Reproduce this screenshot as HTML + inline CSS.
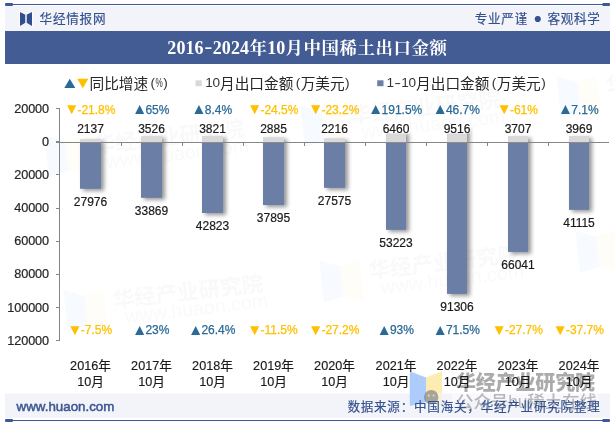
<!DOCTYPE html>
<html lang="zh-CN">
<head>
<meta charset="utf-8">
<title>2016-2024年10月中国稀土出口金额</title>
<style>
html,body{margin:0;padding:0;background:#fff;}
body{width:615px;height:427px;overflow:hidden;position:relative;font-family:"Liberation Sans","Noto Sans CJK SC",sans-serif;}
#chart{position:absolute;left:0;top:0;width:615px;height:427px;display:block;}
text{font-family:"Liberation Sans","Noto Sans CJK SC",sans-serif;}
.ax{font-size:12.67px;letter-spacing:-0.1px;fill:#262626;stroke:#262626;stroke-width:0.2px;}
.val{font-size:12px;fill:#1a1a1a;stroke:#1a1a1a;stroke-width:0.2px;}
.cat{font-size:12.67px;fill:#1a1a1a;stroke:#1a1a1a;stroke-width:0.15px;}
.g{font-size:12px;}
.leg{font-size:14.67px;fill:#262626;}
.legl{fill:#333;font-family:"Liberation Sans",sans-serif;}
.title{font-family:"Liberation Serif","Noto Serif CJK SC",serif;font-weight:bold;font-size:18px;fill:#fff;}
.brand{font-size:12.6px;letter-spacing:0.73px;fill:#34508f;stroke:#34508f;stroke-width:0.15px;}
.foot{font-size:12.6px;letter-spacing:0.73px;fill:#34508f;stroke:#34508f;stroke-width:0.15px;}
.site{font-size:13.33px;fill:#3c5692;stroke:#3c5692;stroke-width:0.5px;}
</style>
</head>
<body>
<svg id="chart" width="615" height="427" viewBox="0 0 615 427">
<defs>
<filter id="sh" x="-50%" y="-50%" width="200%" height="200%" filterUnits="objectBoundingBox">
<feGaussianBlur in="SourceAlpha" stdDeviation="2.2"/>
<feOffset dx="2.8" dy="2.0" result="o"/>
<feComponentTransfer><feFuncA type="linear" slope="0.42"/></feComponentTransfer>
</filter>
</defs>
<rect x="0" y="0" width="615" height="427" fill="#ffffff"/>
<!-- header -->
<rect x="5" y="6" width="605" height="25" fill="#f3f4f9"/>
<rect x="5" y="4" width="605" height="1" fill="#3f5796"/>
<rect x="5" y="3" width="8" height="3" rx="1" fill="#3f5796"/>
<rect x="602.3" y="3" width="7.7" height="3" rx="1" fill="#3f5796"/>
<rect x="5" y="31" width="605" height="33" fill="#445c94"/>
<!-- logo -->
<path d="M20 11.9 L25 14.4 L25 22.9 L20 25.9 Z M32 11.9 L27 14.4 L27 22.9 L32 25.9 Z" fill="#2f4f8f" stroke="#fff" stroke-width="1.6" stroke-linejoin="round" opacity="0.9"/>
<rect x="25" y="14.4" width="2" height="8.5" fill="#c3cce2"/>
<path d="M20 11.9 L25 14.4 L25 22.9 L20 25.9 Z M32 11.9 L27 14.4 L27 22.9 L32 25.9 Z" fill="#2f4f8f"/>
<text class="brand" x="39.6" y="22.8">华经情报网</text>
<text class="brand" y="22.8"><tspan x="474.7">专业严谨</tspan><tspan x="533.5" dy="-0.2" font-size="14.2" stroke="none" letter-spacing="0"> </tspan><tspan x="533.6" font-size="14.2" stroke="none" letter-spacing="0">●</tspan><tspan x="543" dy="0.2" letter-spacing="0"> </tspan><tspan x="547.4">客观科学</tspan></text>
<text class="title" y="54"><tspan x="167.3 176.4 185.5 194.6">2016</tspan><tspan x="204.6" dy="-0.7" textLength="7.8" lengthAdjust="spacingAndGlyphs">-</tspan><tspan x="212.7 221.8 230.9 240.0" dy="0.7">2024</tspan><tspan font-size="17.4" x="249.6" dy="-0.2">年</tspan><tspan x="267.3 276.3" dy="0.2">10</tspan><tspan font-size="17.4" x="285.6 303.6 321.6 339.6 357.6 375.6 393.6 411.6 429.6" dy="-0.2">月中国稀土出口金额</tspan></text>
<!-- footer -->
<rect x="5" y="393.5" width="605" height="24.3" fill="#f3f4f9"/>
<rect x="5" y="420" width="605" height="1" fill="#3f5796"/>
<rect x="5" y="419" width="8" height="3" rx="1" fill="#3f5796"/>
<rect x="602.3" y="419" width="7.7" height="3" rx="1" fill="#3f5796"/>

<g transform="translate(46,150) rotate(-6.5)"><path d="M0 -15 L20 -7 L20 23 L0 27 Z" fill="#3f8fe8" opacity="0.045"/><path d="M40 -11 L20 -7 L20 23 L40 31 Z" fill="#f5c400" opacity="0.033"/><text x="48" y="8.5" font-size="21.6" font-weight="bold" fill="#555" opacity="0.030">华经产业研究院</text><text x="58" y="25" font-size="19.5" fill="#666" opacity="0.030" textLength="144">www.huaon.com</text></g>
<g transform="translate(65,305) rotate(-6.5)"><path d="M0 -15 L20 -7 L20 23 L0 27 Z" fill="#3f8fe8" opacity="0.045"/><path d="M40 -11 L20 -7 L20 23 L40 31 Z" fill="#f5c400" opacity="0.033"/><text x="48" y="8.5" font-size="21.6" font-weight="bold" fill="#555" opacity="0.030">华经产业研究院</text><text x="58" y="25" font-size="19.5" fill="#666" opacity="0.030" textLength="144">www.huaon.com</text></g>
<g transform="translate(321,275.5) rotate(-6.5)"><path d="M0 -15 L20 -7 L20 23 L0 27 Z" fill="#3f8fe8" opacity="0.045"/><path d="M40 -11 L20 -7 L20 23 L40 31 Z" fill="#f5c400" opacity="0.033"/><text x="48" y="8.5" font-size="21.6" font-weight="bold" fill="#555" opacity="0.030">华经产业研究院</text><text x="58" y="25" font-size="19.5" fill="#666" opacity="0.030" textLength="144">www.huaon.com</text></g>
<g transform="translate(302,120.5) rotate(-6.5)"><path d="M0 -15 L20 -7 L20 23 L0 27 Z" fill="#3f8fe8" opacity="0.045"/><path d="M40 -11 L20 -7 L20 23 L40 31 Z" fill="#f5c400" opacity="0.033"/><text x="48" y="8.5" font-size="21.6" font-weight="bold" fill="#555" opacity="0.030">华经产业研究院</text><text x="58" y="25" font-size="19.5" fill="#666" opacity="0.030" textLength="144">www.huaon.com</text></g>
<g transform="translate(577,246) rotate(-6.5)"><path d="M0 -15 L20 -7 L20 23 L0 27 Z" fill="#3f8fe8" opacity="0.045"/><path d="M40 -11 L20 -7 L20 23 L40 31 Z" fill="#f5c400" opacity="0.033"/><text x="48" y="8.5" font-size="21.6" font-weight="bold" fill="#555" opacity="0.030">华经产业研究院</text><text x="58" y="25" font-size="19.5" fill="#666" opacity="0.030" textLength="144">www.huaon.com</text></g>
<g transform="translate(558,91) rotate(-6.5)"><path d="M0 -15 L20 -7 L20 23 L0 27 Z" fill="#3f8fe8" opacity="0.045"/><path d="M40 -11 L20 -7 L20 23 L40 31 Z" fill="#f5c400" opacity="0.033"/><text x="48" y="8.5" font-size="21.6" font-weight="bold" fill="#555" opacity="0.030">华经产业研究院</text><text x="58" y="25" font-size="19.5" fill="#666" opacity="0.030" textLength="144">www.huaon.com</text></g>
<g><rect x="452" y="371" width="147" height="30" fill="#fff" opacity="0.45"/><path d="M409.8 371.3 L426 377.6 L426 402 L409.8 406 Z" fill="#a9c9fb" opacity="0.95"/><path d="M426 377.6 L442 371.3 L442 393 L426 393 Z" fill="#fdeaa8" opacity="0.9"/><path d="M426 393 L442 393 L442 406 L426 402 Z" fill="#fdeaa8" opacity="0.35"/><circle cx="431.2" cy="397.2" r="7.2" fill="#7d7d78" opacity="0.65"/><circle cx="428.8" cy="395.6" r="1" fill="#e8e8e0" opacity="0.8"/><circle cx="433.6" cy="395.6" r="1" fill="#e8e8e0" opacity="0.8"/><text x="456" y="390" font-size="20" font-weight="900" fill="#5a5a5a" opacity="0.5" textLength="139" lengthAdjust="spacing">华经产业研究院</text><text x="456" y="407.5" font-size="17.5" font-weight="500" fill="#777" opacity="0.5" textLength="141" lengthAdjust="spacing">公众号hu稀土在线</text></g>
<text y="88.2" font-size="16.0"><tspan x="60.54" fill="#2b6a96" textLength="18.59" lengthAdjust="spacingAndGlyphs">▲</tspan><tspan x="73.54" fill="#ffc000" textLength="18.59" lengthAdjust="spacingAndGlyphs">▼</tspan></text>
<text class="leg" y="88.6"><tspan x="89.50 104.17 118.84 133.51">同比增速</tspan><tspan class="legl" font-size="13.6" x="150.58" dy="-1.20">(</tspan><tspan class="legl" font-size="13.6" x="155.56" textLength="7.25" lengthAdjust="spacingAndGlyphs">%</tspan><tspan class="legl" font-size="13.6" x="163.25">)</tspan></text>
<rect x="195.5" y="80.3" width="6.3" height="5.9" fill="#d9d9d9"/>
<text class="leg" y="88.6"><tspan class="legl" font-size="13.6" x="205.19 212.52" dy="-1.20">10</tspan><tspan x="219.97 234.64 249.31 263.98 278.65" dy="1.20">月出口金额</tspan><tspan class="legl" font-size="13.6" x="295.72" dy="-1.20">(</tspan><tspan x="300.66 315.33 330.00" dy="1.20">万美元</tspan><tspan class="legl" font-size="13.6" x="345.07" dy="-1.20">)</tspan></text>
<rect x="377.2" y="80.3" width="6.3" height="5.9" fill="#6a7ea6"/>
<text class="leg" y="88.6"><tspan class="legl" font-size="13.6" x="386.59" dy="-1.20">1</tspan><tspan class="legl" font-size="13.6" x="394.31" textLength="6.79" lengthAdjust="spacingAndGlyphs">-</tspan><tspan class="legl" font-size="13.6" x="401.26 408.59">10</tspan><tspan x="416.04 430.71 445.38 460.05 474.72" dy="1.20">月出口金额</tspan><tspan class="legl" font-size="13.6" x="491.79" dy="-1.20">(</tspan><tspan x="496.72 511.39 526.06" dy="1.20">万美元</tspan><tspan class="legl" font-size="13.6" x="541.14" dy="-1.20">)</tspan></text>
<rect x="80.00" y="139.10" width="21" height="49.70" fill="#000" filter="url(#sh)"/>
<rect x="141.00" y="136.10" width="21" height="61.70" fill="#000" filter="url(#sh)"/>
<rect x="202.00" y="136.00" width="21" height="77.00" fill="#000" filter="url(#sh)"/>
<rect x="263.00" y="137.20" width="21" height="67.80" fill="#000" filter="url(#sh)"/>
<rect x="324.00" y="138.30" width="21" height="49.55" fill="#000" filter="url(#sh)"/>
<rect x="386.00" y="131.40" width="20" height="98.45" fill="#000" filter="url(#sh)"/>
<rect x="447.00" y="126.30" width="20" height="167.60" fill="#000" filter="url(#sh)"/>
<rect x="508.00" y="136.05" width="20" height="115.85" fill="#000" filter="url(#sh)"/>
<rect x="569.00" y="136.00" width="20" height="73.85" fill="#000" filter="url(#sh)"/>
<g stroke="#868686" stroke-width="1" fill="none">
<line x1="59.5" y1="108" x2="59.5" y2="341"/>
<line x1="56.0" y1="108.5" x2="59.5" y2="108.5"/>
<line x1="56.0" y1="141.5" x2="59.5" y2="141.5"/>
<line x1="56.0" y1="174.5" x2="59.5" y2="174.5"/>
<line x1="56.0" y1="208.5" x2="59.5" y2="208.5"/>
<line x1="56.0" y1="241.5" x2="59.5" y2="241.5"/>
<line x1="56.0" y1="274.5" x2="59.5" y2="274.5"/>
<line x1="56.0" y1="307.5" x2="59.5" y2="307.5"/>
<line x1="56.0" y1="340.5" x2="59.5" y2="340.5"/>
<line x1="56.0" y1="142.5" x2="609" y2="142.5"/>
<line x1="121.5" y1="142.5" x2="121.5" y2="146.0"/>
<line x1="182.5" y1="142.5" x2="182.5" y2="146.0"/>
<line x1="243.5" y1="142.5" x2="243.5" y2="146.0"/>
<line x1="304.5" y1="142.5" x2="304.5" y2="146.0"/>
<line x1="365.5" y1="142.5" x2="365.5" y2="146.0"/>
<line x1="426.5" y1="142.5" x2="426.5" y2="146.0"/>
<line x1="487.5" y1="142.5" x2="487.5" y2="146.0"/>
<line x1="548.5" y1="142.5" x2="548.5" y2="146.0"/>
</g>
<rect x="80.00" y="139.10" width="21" height="3.80" fill="#d9d9d9"/>
<rect x="80.00" y="142.9" width="21" height="45.90" fill="#6a7ea6"/>
<rect x="141.00" y="136.10" width="21" height="6.80" fill="#d9d9d9"/>
<rect x="141.00" y="142.9" width="21" height="54.90" fill="#6a7ea6"/>
<rect x="202.00" y="136.00" width="21" height="6.90" fill="#d9d9d9"/>
<rect x="202.00" y="142.9" width="21" height="70.10" fill="#6a7ea6"/>
<rect x="263.00" y="137.20" width="21" height="5.70" fill="#d9d9d9"/>
<rect x="263.00" y="142.9" width="21" height="62.10" fill="#6a7ea6"/>
<rect x="324.00" y="138.30" width="21" height="4.60" fill="#d9d9d9"/>
<rect x="324.00" y="142.9" width="21" height="44.95" fill="#6a7ea6"/>
<rect x="386.00" y="131.40" width="20" height="11.50" fill="#d9d9d9"/>
<rect x="386.00" y="142.9" width="20" height="86.95" fill="#6a7ea6"/>
<rect x="447.00" y="126.30" width="20" height="16.60" fill="#d9d9d9"/>
<rect x="447.00" y="142.9" width="20" height="151.00" fill="#6a7ea6"/>
<rect x="508.00" y="136.05" width="20" height="6.85" fill="#d9d9d9"/>
<rect x="508.00" y="142.9" width="20" height="109.00" fill="#6a7ea6"/>
<rect x="569.00" y="136.00" width="20" height="6.90" fill="#d9d9d9"/>
<rect x="569.00" y="142.9" width="20" height="66.95" fill="#6a7ea6"/>
<line x1="59.5" y1="142.5" x2="609" y2="142.5" stroke="#868686" stroke-width="1" opacity="0.9"/>
<text class="ax" x="49" y="113.1" text-anchor="end">20000</text>
<text class="ax" x="49" y="146.2" text-anchor="end">0</text>
<text class="ax" x="49" y="179.2" text-anchor="end">20000</text>
<text class="ax" x="49" y="212.3" text-anchor="end">40000</text>
<text class="ax" x="49" y="245.3" text-anchor="end">60000</text>
<text class="ax" x="49" y="278.4" text-anchor="end">80000</text>
<text class="ax" x="49" y="311.5" text-anchor="end">100000</text>
<text class="ax" x="49" y="344.5" text-anchor="end">120000</text>
<rect x="77.1" y="122.5" width="26.8" height="10.9" fill="#fff"/>
<text class="val" x="90.5" y="132.9" text-anchor="middle">2137</text>
<text class="val" x="90.5" y="205.7" text-anchor="middle">27976</text>
<text class="g" y="113.7" fill="#ffc000"><tspan x="63.94" dy="0.6" font-size="15.5">▼</tspan><tspan x="77.44" dy="-0.6" stroke="#ffc000" stroke-width="0.25">-21.8%</tspan></text>
<text class="g" y="333.9" fill="#ffc000"><tspan x="67.28" dy="0.6" font-size="15.5">▼</tspan><tspan x="80.78" dy="-0.6" stroke="#ffc000" stroke-width="0.25">-7.5%</tspan></text>
<text class="cat" x="90.5" y="369.8" text-anchor="middle">2016年</text>
<text class="cat" x="90.5" y="385.8" text-anchor="middle">10月</text>
<rect x="138.1" y="122.5" width="26.8" height="10.9" fill="#fff"/>
<text class="val" x="151.5" y="132.9" text-anchor="middle">3526</text>
<text class="val" x="151.5" y="214.7" text-anchor="middle">33869</text>
<text class="g" y="113.7" fill="#2b6a96"><tspan x="131.94" dy="0.6" font-size="15.5">▲</tspan><tspan x="145.44" dy="-0.6" stroke="#2b6a96" stroke-width="0.25">65%</tspan></text>
<text class="g" y="333.9" fill="#2b6a96"><tspan x="131.94" dy="0.6" font-size="15.5">▲</tspan><tspan x="145.44" dy="-0.6" stroke="#2b6a96" stroke-width="0.25">23%</tspan></text>
<text class="cat" x="151.5" y="369.8" text-anchor="middle">2017年</text>
<text class="cat" x="151.5" y="385.8" text-anchor="middle">10月</text>
<rect x="199.1" y="122.5" width="26.8" height="10.9" fill="#fff"/>
<text class="val" x="212.5" y="132.9" text-anchor="middle">3821</text>
<text class="val" x="212.5" y="229.9" text-anchor="middle">42823</text>
<text class="g" y="113.7" fill="#2b6a96"><tspan x="191.27" dy="0.6" font-size="15.5">▲</tspan><tspan x="204.77" dy="-0.6" stroke="#2b6a96" stroke-width="0.25">8.4%</tspan></text>
<text class="g" y="333.9" fill="#2b6a96"><tspan x="187.94" dy="0.6" font-size="15.5">▲</tspan><tspan x="201.44" dy="-0.6" stroke="#2b6a96" stroke-width="0.25">26.4%</tspan></text>
<text class="cat" x="212.5" y="369.8" text-anchor="middle">2018年</text>
<text class="cat" x="212.5" y="385.8" text-anchor="middle">10月</text>
<rect x="260.1" y="122.5" width="26.8" height="10.9" fill="#fff"/>
<text class="val" x="273.5" y="132.9" text-anchor="middle">2885</text>
<text class="val" x="273.5" y="221.9" text-anchor="middle">37895</text>
<text class="g" y="113.7" fill="#ffc000"><tspan x="246.94" dy="0.6" font-size="15.5">▼</tspan><tspan x="260.44" dy="-0.6" stroke="#ffc000" stroke-width="0.25">-24.5%</tspan></text>
<text class="g" y="333.9" fill="#ffc000"><tspan x="246.94" dy="0.6" font-size="15.5">▼</tspan><tspan x="260.44" dy="-0.6" stroke="#ffc000" stroke-width="0.25">-11.5%</tspan></text>
<text class="cat" x="273.5" y="369.8" text-anchor="middle">2019年</text>
<text class="cat" x="273.5" y="385.8" text-anchor="middle">10月</text>
<rect x="321.1" y="122.5" width="26.8" height="10.9" fill="#fff"/>
<text class="val" x="334.5" y="132.9" text-anchor="middle">2216</text>
<text class="val" x="334.5" y="204.8" text-anchor="middle">27575</text>
<text class="g" y="113.7" fill="#ffc000"><tspan x="307.94" dy="0.6" font-size="15.5">▼</tspan><tspan x="321.44" dy="-0.6" stroke="#ffc000" stroke-width="0.25">-23.2%</tspan></text>
<text class="g" y="333.9" fill="#ffc000"><tspan x="307.94" dy="0.6" font-size="15.5">▼</tspan><tspan x="321.44" dy="-0.6" stroke="#ffc000" stroke-width="0.25">-27.2%</tspan></text>
<text class="cat" x="334.5" y="369.8" text-anchor="middle">2020年</text>
<text class="cat" x="334.5" y="385.8" text-anchor="middle">10月</text>
<rect x="382.6" y="122.5" width="26.8" height="10.9" fill="#fff"/>
<text class="val" x="396.0" y="132.9" text-anchor="middle">6460</text>
<text class="val" x="396.0" y="246.8" text-anchor="middle">53223</text>
<text class="g" y="113.7" fill="#2b6a96"><tspan x="368.10" dy="0.6" font-size="15.5">▲</tspan><tspan x="381.60" dy="-0.6" stroke="#2b6a96" stroke-width="0.25">191.5%</tspan></text>
<text class="g" y="333.9" fill="#2b6a96"><tspan x="376.44" dy="0.6" font-size="15.5">▲</tspan><tspan x="389.94" dy="-0.6" stroke="#2b6a96" stroke-width="0.25">93%</tspan></text>
<text class="cat" x="396.0" y="369.8" text-anchor="middle">2021年</text>
<text class="cat" x="396.0" y="385.8" text-anchor="middle">10月</text>
<rect x="443.6" y="122.5" width="26.8" height="10.9" fill="#fff"/>
<text class="val" x="457.0" y="132.9" text-anchor="middle">9516</text>
<text class="val" x="457.0" y="310.8" text-anchor="middle">91306</text>
<text class="g" y="113.7" fill="#2b6a96"><tspan x="432.44" dy="0.6" font-size="15.5">▲</tspan><tspan x="445.94" dy="-0.6" stroke="#2b6a96" stroke-width="0.25">46.7%</tspan></text>
<text class="g" y="333.9" fill="#2b6a96"><tspan x="432.44" dy="0.6" font-size="15.5">▲</tspan><tspan x="445.94" dy="-0.6" stroke="#2b6a96" stroke-width="0.25">71.5%</tspan></text>
<text class="cat" x="457.0" y="369.8" text-anchor="middle">2022年</text>
<text class="cat" x="457.0" y="385.8" text-anchor="middle">10月</text>
<rect x="504.6" y="122.5" width="26.8" height="10.9" fill="#fff"/>
<text class="val" x="518.0" y="132.9" text-anchor="middle">3707</text>
<text class="val" x="518.0" y="268.8" text-anchor="middle">66041</text>
<text class="g" y="113.7" fill="#ffc000"><tspan x="496.44" dy="0.6" font-size="15.5">▼</tspan><tspan x="509.94" dy="-0.6" stroke="#ffc000" stroke-width="0.25">-61%</tspan></text>
<text class="g" y="333.9" fill="#ffc000"><tspan x="491.44" dy="0.6" font-size="15.5">▼</tspan><tspan x="504.94" dy="-0.6" stroke="#ffc000" stroke-width="0.25">-27.7%</tspan></text>
<text class="cat" x="518.0" y="369.8" text-anchor="middle">2023年</text>
<text class="cat" x="518.0" y="385.8" text-anchor="middle">10月</text>
<rect x="565.6" y="122.5" width="26.8" height="10.9" fill="#fff"/>
<text class="val" x="579.0" y="132.9" text-anchor="middle">3969</text>
<text class="val" x="579.0" y="226.8" text-anchor="middle">41115</text>
<text class="g" y="113.7" fill="#2b6a96"><tspan x="557.77" dy="0.6" font-size="15.5">▲</tspan><tspan x="571.27" dy="-0.6" stroke="#2b6a96" stroke-width="0.25">7.1%</tspan></text>
<text class="g" y="333.9" fill="#ffc000"><tspan x="552.44" dy="0.6" font-size="15.5">▼</tspan><tspan x="565.94" dy="-0.6" stroke="#ffc000" stroke-width="0.25">-37.7%</tspan></text>
<text class="cat" x="579.0" y="369.8" text-anchor="middle">2024年</text>
<text class="cat" x="579.0" y="385.8" text-anchor="middle">10月</text>
<text class="site" x="16.6" y="411">www.huaon.com</text>
<text class="foot" x="347.4" y="410.5">数据来源：中国海关，华经产业研究院整理</text>

</svg>
</body>
</html>
